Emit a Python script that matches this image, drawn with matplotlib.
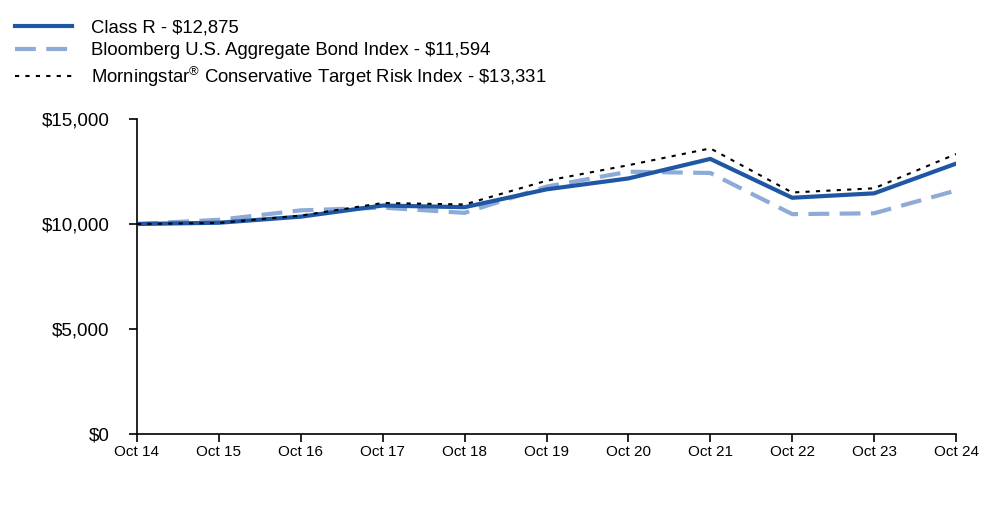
import matplotlib
matplotlib.use("Agg")
import matplotlib.pyplot as plt
from matplotlib.ticker import FuncFormatter

plt.rcParams['font.family'] = ['Liberation Sans', 'DejaVu Sans']
plt.rcParams['mathtext.fontset'] = 'custom'
plt.rcParams['mathtext.rm'] = 'Liberation Sans'
plt.rcParams['mathtext.it'] = 'Liberation Sans'
plt.rcParams['mathtext.bf'] = 'Liberation Sans'

labels = ["Oct 14", "Oct 15", "Oct 16", "Oct 17", "Oct 18", "Oct 19",
          "Oct 20", "Oct 21", "Oct 22", "Oct 23", "Oct 24"]
class_r = [10000, 10060, 10350, 10880, 10800, 11650, 12170, 13100, 11250, 11460, 12875]
bloomberg = [10000, 10200, 10650, 10780, 10530, 11780, 12490, 12430, 10470, 10510, 11594]
morningstar = [10000, 10050, 10400, 11000, 10930, 12060, 12800, 13600, 11500, 11700, 13331]

names = ["Class R - \\$12,875",
         "Bloomberg U.S. Aggregate Bond Index - \\$11,594",
         "Morningstar$^{\u00ae}$ Conservative Target Risk Index - \\$13,331"]

fig = plt.figure(figsize=(10, 5.23), dpi=100)
ax = fig.add_axes([0.137, 1 - 434/523, 0.819, 315/523])

x = list(range(len(labels)))
l1, = ax.plot(x, class_r, color="#1f57a5", lw=3, solid_joinstyle="round", zorder=3)
l2, = ax.plot(x, bloomberg, color="#8eabd7", lw=3, dashes=(5, 2.5), zorder=2)
l3, = ax.plot(x, morningstar, color="black", lw=1.5, dashes=(2, 3), zorder=4)

ax.set_xlim(0, 10)
ax.set_ylim(0, 15000)
ax.set_yticks([0, 5000, 10000, 15000])
ax.yaxis.set_major_formatter(FuncFormatter(lambda v, p: f"${v:,.0f}"))
ax.set_xticks(x)
ax.set_xticklabels(labels)
for s in ["top", "right"]:
    ax.spines[s].set_visible(False)
ax.spines["left"].set_linewidth(1.2)
ax.spines["bottom"].set_linewidth(1.2)
ax.tick_params(axis="y", length=6, width=1.2, labelsize=13.5, pad=14)
ax.tick_params(axis="x", length=6, width=1.2, labelsize=11, pad=2)

leg = fig.legend([l1, l2, l3], names, loc="upper left", bbox_to_anchor=(0.0, 1 - 5/523),
                 frameon=False, fontsize=13.3, handlelength=3.1, handletextpad=1.05,
                 labelspacing=0.3, borderaxespad=0.4)

fig.savefig("out.png", dpi=100)
